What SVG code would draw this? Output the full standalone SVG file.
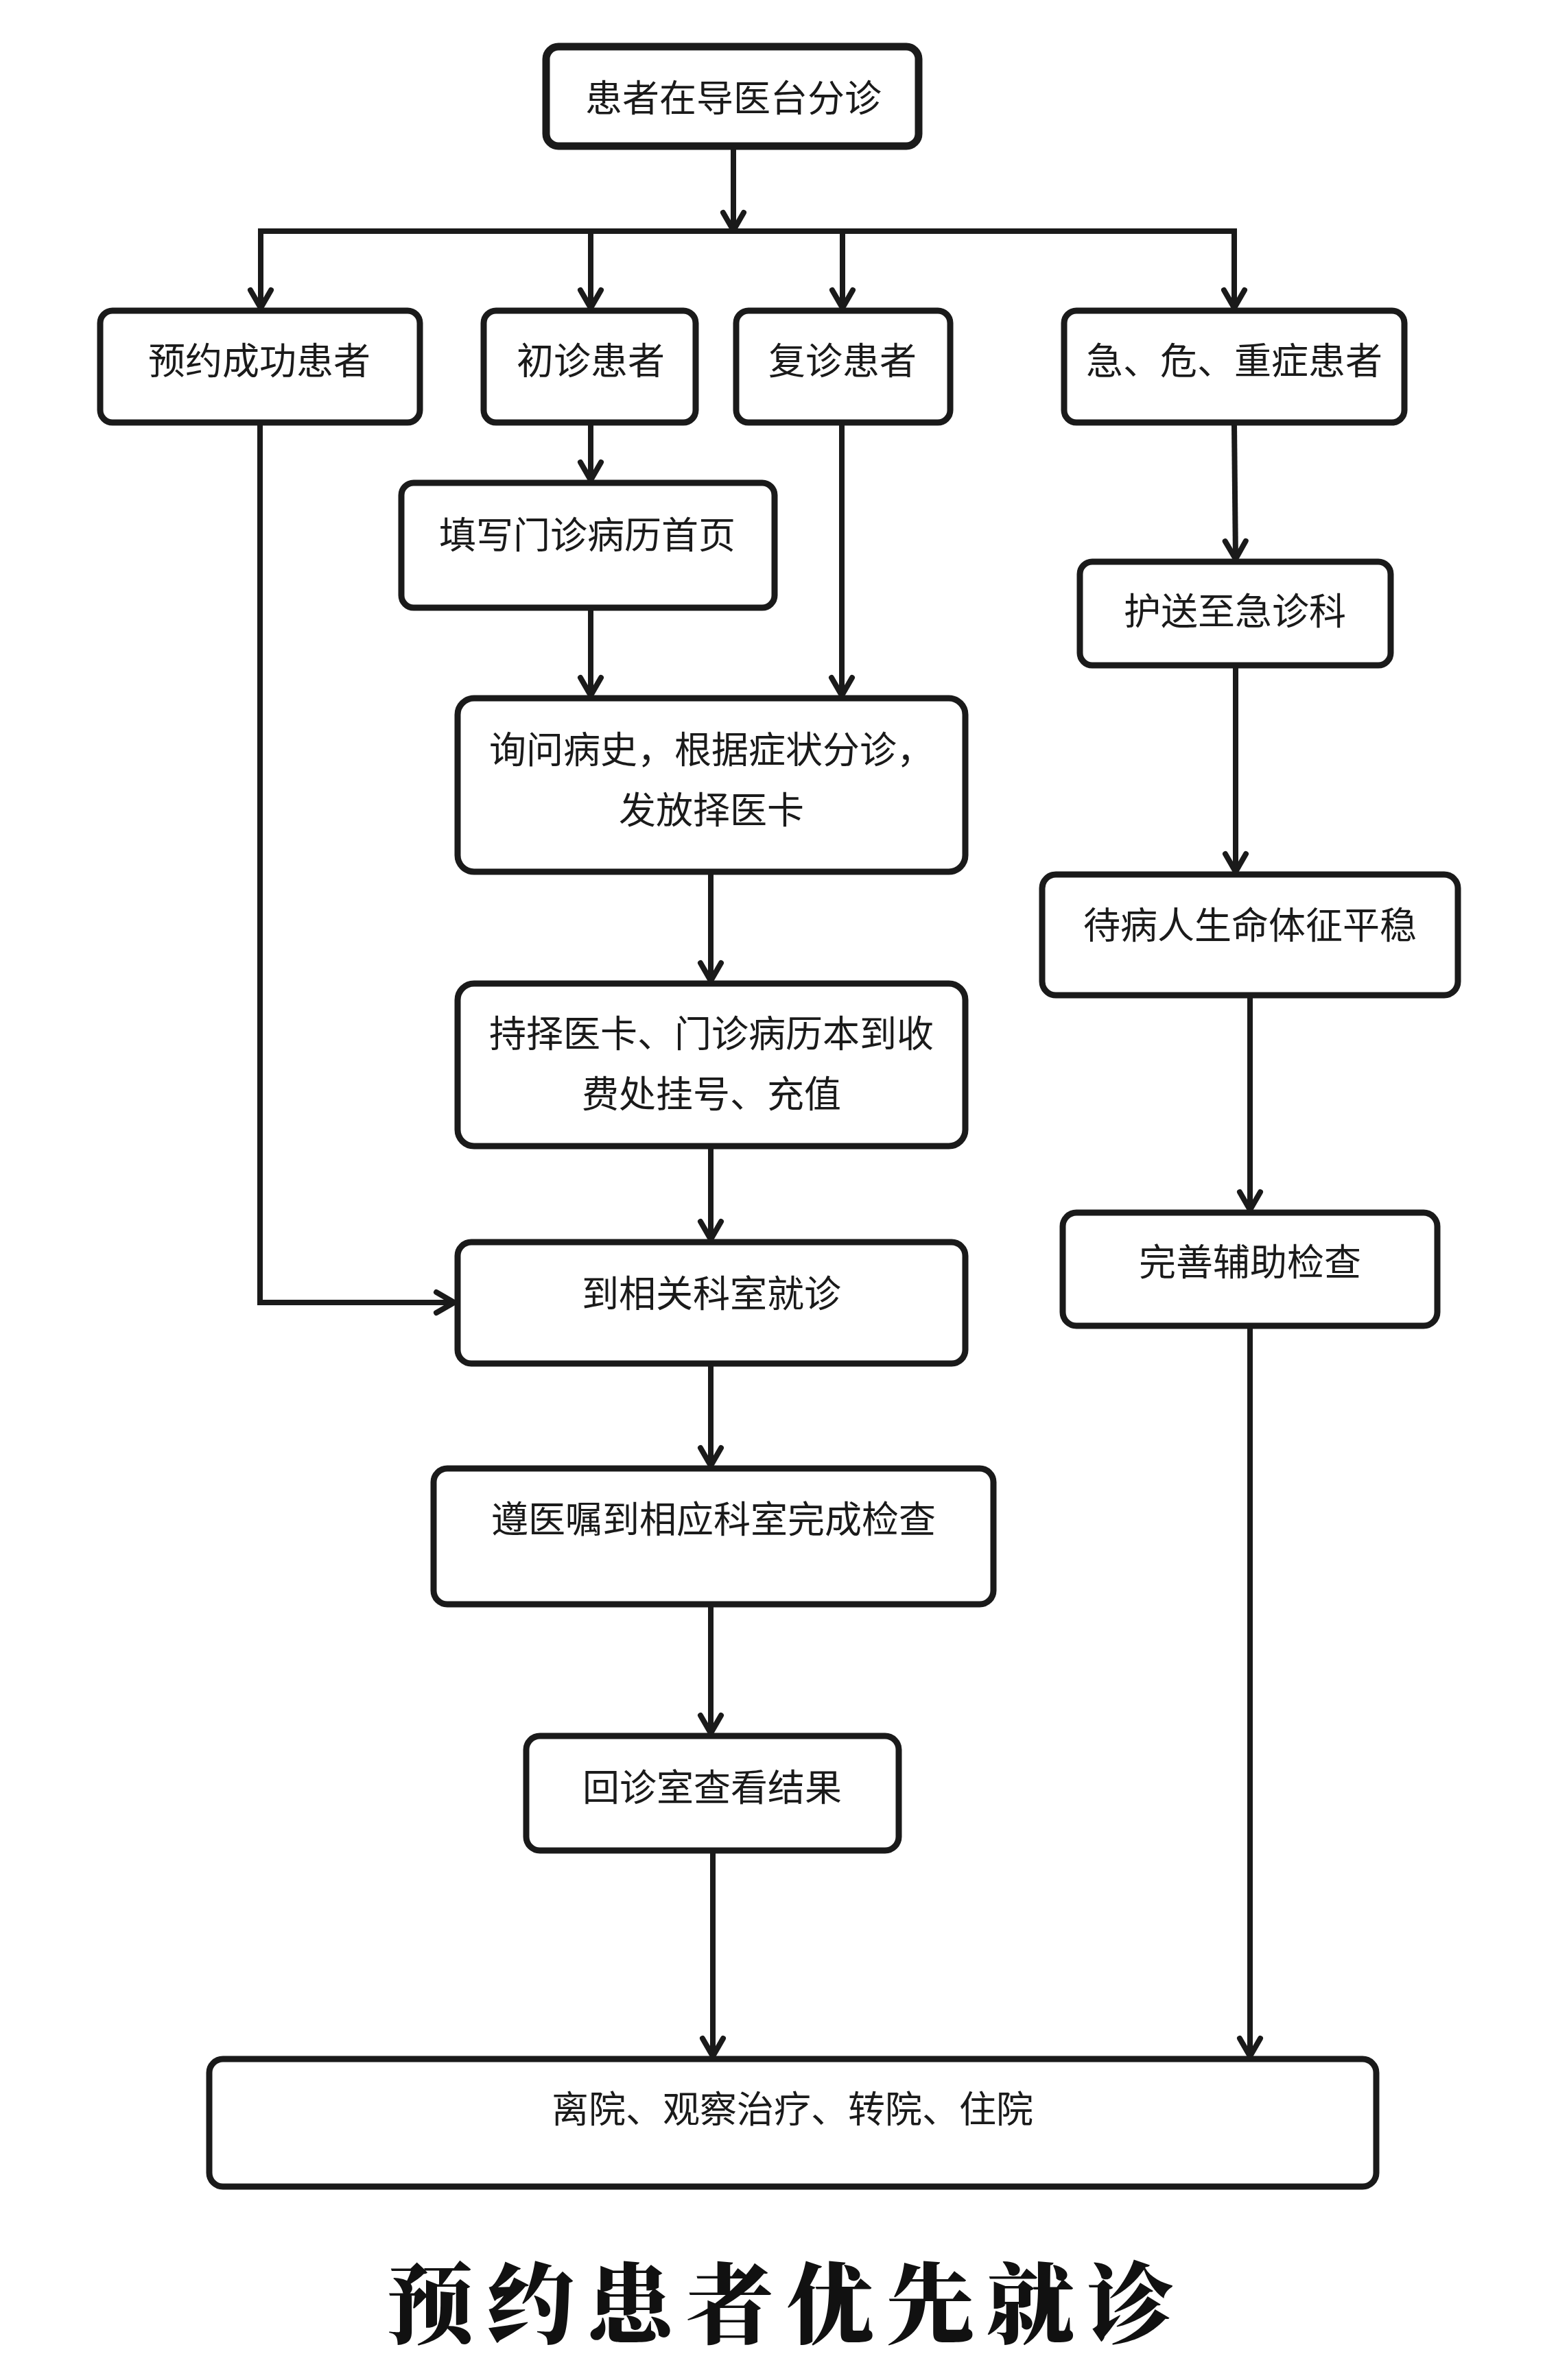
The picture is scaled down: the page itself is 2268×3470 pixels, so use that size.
<svg xmlns="http://www.w3.org/2000/svg" width="2268" height="3470" viewBox="0 0 2268 3470">
<style>
.box{fill:#fff;stroke:#1a1a1a;stroke-width:9}
.top{stroke-width:11}
.t{font-family:"Noto Sans CJK SC","Noto Sans CJK TC",sans-serif;font-size:54px;fill:#1a1a1a;text-anchor:middle;dominant-baseline:central}
.c{fill:none;stroke:#1a1a1a;stroke-width:8;stroke-linecap:butt;stroke-linejoin:miter}
.title{font-family:"Noto Serif CJK SC","Noto Sans CJK SC",serif;font-size:128px;font-weight:900;letter-spacing:18px;fill:#111;text-anchor:middle;dominant-baseline:central}
</style>
<defs>
<marker id="arr" markerUnits="userSpaceOnUse" markerWidth="60" markerHeight="60" refX="0" refY="0" orient="auto" overflow="visible">
<path d="M -26 -15 L 0 0 L -26 15" fill="none" stroke="#1a1a1a" stroke-width="8" stroke-linecap="round" stroke-linejoin="round"/>
</marker>
</defs>
<rect width="2268" height="3470" fill="#fff"/>
<g id="connectors">
<line class="c" x1="1069" y1="217" x2="1069" y2="336" marker-end="url(#arr)"/>
<line class="c" x1="376" y1="337" x2="1803" y2="337"/>
<line class="c" x1="380" y1="337" x2="380" y2="449" marker-end="url(#arr)"/>
<line class="c" x1="861" y1="337" x2="861" y2="449" marker-end="url(#arr)"/>
<line class="c" x1="1228" y1="337" x2="1228" y2="449" marker-end="url(#arr)"/>
<line class="c" x1="1799" y1="333" x2="1799" y2="449" marker-end="url(#arr)"/>
<line class="c" x1="861" y1="619" x2="861" y2="700" marker-end="url(#arr)"/>
<line class="c" x1="861" y1="890" x2="861" y2="1014" marker-end="url(#arr)"/>
<line class="c" x1="1227" y1="619" x2="1227" y2="1014" marker-end="url(#arr)"/>
<line class="c" x1="1036" y1="1275" x2="1036" y2="1430" marker-end="url(#arr)"/>
<line class="c" x1="1036" y1="1675" x2="1036" y2="1807" marker-end="url(#arr)"/>
<path class="c" d="M 379 619 V 1899 H 662" marker-end="url(#arr)"/>
<line class="c" x1="1036" y1="1992" x2="1036" y2="2137" marker-end="url(#arr)"/>
<line class="c" x1="1036" y1="2343" x2="1036" y2="2527" marker-end="url(#arr)"/>
<line class="c" x1="1039" y1="2702" x2="1039" y2="2998" marker-end="url(#arr)"/>
<line class="c" x1="1799" y1="619" x2="1801" y2="815" marker-end="url(#arr)"/>
<line class="c" x1="1801" y1="974" x2="1801" y2="1271" marker-end="url(#arr)"/>
<line class="c" x1="1822" y1="1455" x2="1822" y2="1764" marker-end="url(#arr)"/>
<line class="c" x1="1822" y1="1937" x2="1822" y2="2998" marker-end="url(#arr)"/>
</g>
<g id="n-start"><rect class="box top" x="796" y="68" width="543" height="145" rx="18"/><text class="t" x="1069" y="139">患者在导医台分诊</text></g>
<g id="n-yuyue"><rect class="box" x="146" y="453" width="466" height="163" rx="18"/><text class="t" x="378" y="522">预约成功患者</text></g>
<g id="n-chuzhen"><rect class="box" x="705" y="453" width="309" height="163" rx="18"/><text class="t" x="861" y="522">初诊患者</text></g>
<g id="n-fuzhen"><rect class="box" x="1073" y="453" width="312" height="163" rx="18"/><text class="t" x="1228" y="522">复诊患者</text></g>
<g id="n-ji"><rect class="box" x="1551" y="453" width="496" height="163" rx="18"/><text class="t" x="1799" y="522">急、危、重症患者</text></g>
<g id="n-tianxie"><rect class="box" x="585" y="704" width="544" height="182" rx="18"/><text class="t" x="856" y="776">填写门诊病历首页</text></g>
<g id="n-husong"><rect class="box" x="1574" y="819" width="453" height="151" rx="18"/><text class="t" x="1800" y="887">护送至急诊科</text></g>
<g id="n-xunwen"><rect class="box" x="667" y="1018" width="740" height="253" rx="24"/><text class="t" x="1037" y="1089">询问病史，根据症状分诊，</text><text class="t" x="1037" y="1177">发放择医卡</text></g>
<g id="n-chi"><rect class="box" x="667" y="1434" width="740" height="237" rx="24"/><text class="t" x="1037" y="1503">持择医卡、门诊病历本到收</text><text class="t" x="1037" y="1591">费处挂号、充值</text></g>
<g id="n-dai"><rect class="box" x="1519" y="1275" width="606" height="176" rx="20"/><text class="t" x="1822" y="1345">待病人生命体征平稳</text></g>
<g id="n-jiuzhen"><rect class="box" x="667" y="1811" width="740" height="177" rx="20"/><text class="t" x="1037" y="1882">到相关科室就诊</text></g>
<g id="n-wanshan"><rect class="box" x="1549" y="1768" width="546" height="165" rx="20"/><text class="t" x="1822" y="1836">完善辅助检查</text></g>
<g id="n-zunyizhu"><rect class="box" x="632" y="2141" width="816" height="198" rx="20"/><text class="t" x="1040" y="2211">遵医嘱到相应科室完成检查</text></g>
<g id="n-huizhen"><rect class="box" x="767" y="2531" width="543" height="167" rx="20"/><text class="t" x="1038" y="2602">回诊室查看结果</text></g>
<g id="n-end"><rect class="box" x="305" y="3002" width="1701" height="186" rx="20"/><text class="t" x="1155" y="3071">离院、观察治疗、转院、住院</text></g>
<text class="title" x="1146" y="3352">预约患者优先就诊</text>
</svg>
